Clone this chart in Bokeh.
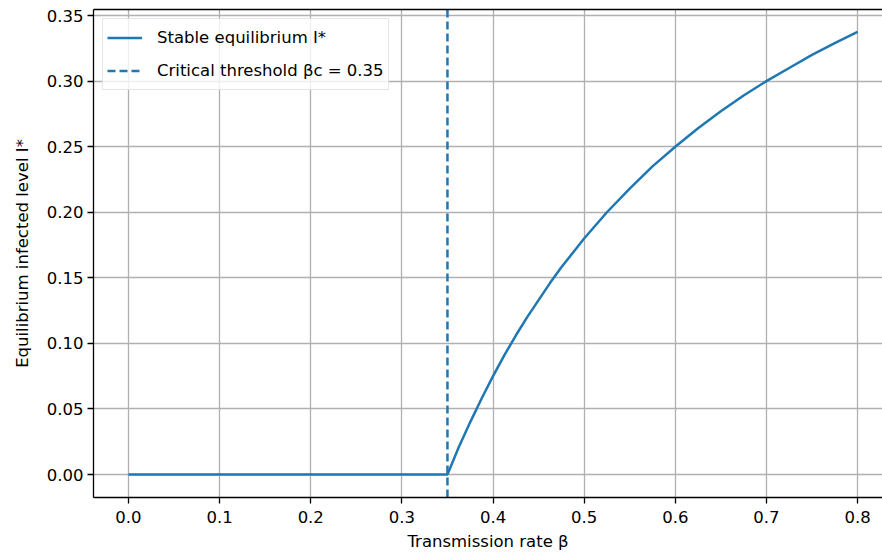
from bokeh.plotting import figure
from bokeh.models import Range1d, FixedTicker, LinearAxis, Legend, LegendItem
from bokeh.embed import file_html
from bokeh.resources import INLINE

# Data
beta = [0.0, 0.35, 0.3625, 0.375, 0.3875, 0.4, 0.4125, 0.425, 0.4375, 0.45, 0.4625, 0.475, 0.5,
        0.525, 0.55, 0.575, 0.6, 0.625, 0.65, 0.675, 0.7, 0.725, 0.75, 0.775, 0.8]
i_star = [0.0, 0.0, 0.021, 0.040, 0.058, 0.075, 0.091, 0.106, 0.120, 0.133, 0.146, 0.158, 0.180,
          0.200, 0.218, 0.235, 0.250, 0.264, 0.277, 0.289, 0.300, 0.310, 0.320, 0.329, 0.3375]
beta_c = 0.35
x_ticks = [0.0, 0.1, 0.2, 0.3, 0.4, 0.5, 0.6, 0.7, 0.8]
y_ticks = [0.00, 0.05, 0.10, 0.15, 0.20, 0.25, 0.30, 0.35]
x_tick_labels = ["0.0", "0.1", "0.2", "0.3", "0.4", "0.5", "0.6", "0.7", "0.8"]
y_tick_labels = ["0.00", "0.05", "0.10", "0.15", "0.20", "0.25", "0.30", "0.35"]

X_MIN, X_MAX = -0.0384, 0.8274
Y_MIN, Y_MAX = -0.0175, 0.3546

BLUE = "#1f77b4"
FONT = "DejaVu Sans"
FS = "16.5px"

p = figure(width=882, height=554, output_backend="svg", toolbar_location=None,
           x_range=Range1d(X_MIN, X_MAX), y_range=Range1d(Y_MIN, Y_MAX),
           min_border_left=93, min_border_right=0, min_border_top=9, min_border_bottom=57)
p.outline_line_color = None
p.background_fill_color = "white"
p.border_fill_color = "white"

for ax, ticks, labels in ((p.xaxis[0], x_ticks, x_tick_labels), (p.yaxis[0], y_ticks, y_tick_labels)):
    ax.ticker = FixedTicker(ticks=ticks)
    ax.major_label_overrides = {t: l for t, l in zip(ticks, labels)}
    ax.minor_tick_line_color = None
    ax.major_tick_in = 0
    ax.major_tick_out = 6
    ax.major_tick_line_width = 1.3
    ax.axis_line_width = 1.3
    ax.axis_line_color = "black"
    ax.major_tick_line_color = "black"
    ax.major_label_text_font = FONT
    ax.major_label_text_font_size = FS
    ax.major_label_text_color = "black"
    ax.axis_label_text_font = FONT
    ax.axis_label_text_font_size = FS
    ax.axis_label_text_font_style = "normal"
    ax.axis_label_text_color = "black"

p.xaxis.axis_label = "Transmission rate β"
p.yaxis.axis_label = "Equilibrium infected level I*"
p.xaxis.major_label_standoff = 7
p.yaxis.major_label_standoff = 4
p.xaxis.axis_label_standoff = 6
p.yaxis.axis_label_standoff = 12

top = LinearAxis(ticker=FixedTicker(ticks=[]), axis_line_width=1.3, axis_line_color="black",
                 major_tick_in=0, major_tick_out=0, minor_tick_in=0, minor_tick_out=0,
                 major_label_text_font_size="0px")
p.add_layout(top, "above")

p.xgrid.grid_line_color = "#b0b0b0"
p.ygrid.grid_line_color = "#b0b0b0"
p.xgrid.grid_line_width = 1.3
p.ygrid.grid_line_width = 1.3
p.xgrid.ticker = FixedTicker(ticks=x_ticks)
p.ygrid.ticker = FixedTicker(ticks=y_ticks)

r1 = p.line(beta, i_star, line_color=BLUE, line_width=2.5)
r2 = p.line([beta_c, beta_c], [Y_MIN, Y_MAX], line_color=BLUE, line_width=2.5, line_dash="8 4")

legend = Legend(items=[LegendItem(label="Stable equilibrium I*", renderers=[r1]),
                       LegendItem(label="Critical threshold βc = 0.35", renderers=[r2])],
                location="top_left", margin=9, padding=4, spacing=4,
                glyph_width=35, glyph_height=29, label_height=29, label_standoff=15,
                label_text_font=FONT, label_text_font_size=FS, label_text_color="black",
                border_line_color="#cccccc", border_line_width=1.3,
                background_fill_color="white", background_fill_alpha=0.8)
p.add_layout(legend, "center")

open("out.html", "w").write(file_html(p, INLINE))
